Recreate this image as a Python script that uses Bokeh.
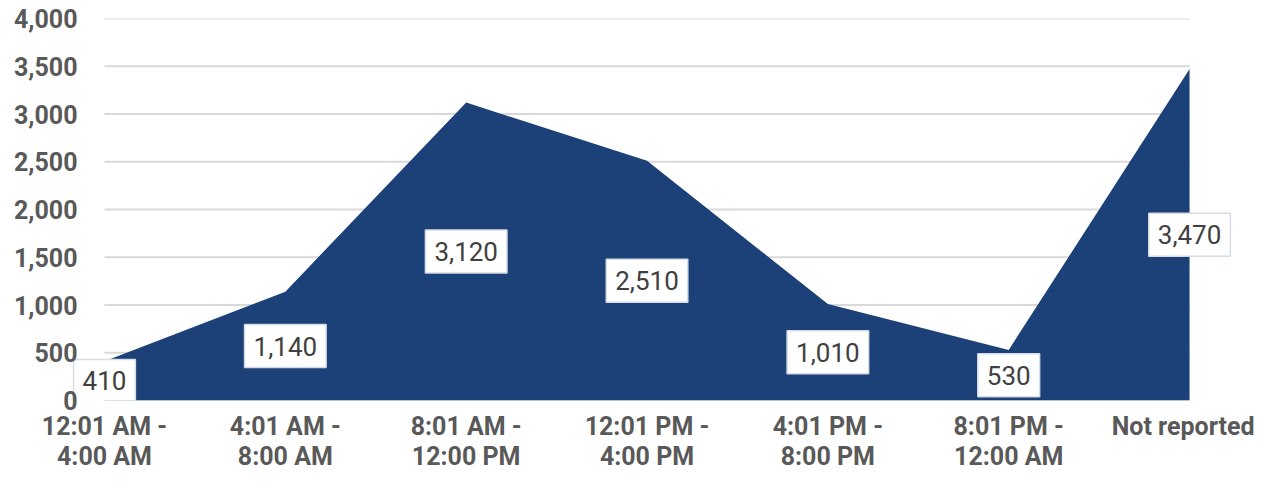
from bokeh.plotting import figure
from bokeh.models import ColumnDataSource, FixedTicker, NumeralTickFormatter, Range1d, Label
from bokeh.embed import file_html
from bokeh.resources import INLINE

categories = ["12:01 AM -\n4:00 AM", "4:01 AM -\n8:00 AM", "8:01 AM -\n12:00 PM",
              "12:01 PM -\n4:00 PM", "4:01 PM -\n8:00 PM", "8:01 PM -\n12:00 AM",
              "Not reported"]
values = [410, 1140, 3120, 2510, 1010, 530, 3470]
y_ticks = [0, 500, 1000, 1500, 2000, 2500, 3000, 3500, 4000]

xs = list(range(len(categories)))
src = ColumnDataSource(dict(x=xs, y=values))
grid = ColumnDataSource(dict(x0=[xs[0]] * len(y_ticks), x1=[xs[-1]] * len(y_ticks), y=y_ticks))

# frame is a bit wider than the category span so the boxed labels at the ends are not clipped
pad_l, pad_r = 0.188, 0.254
p = figure(width=1254, height=473, output_backend="svg", toolbar_location=None,
           x_range=Range1d(xs[0] - pad_l, xs[-1] + pad_r), y_range=Range1d(0, 4000),
           min_border_left=70, min_border_right=19, min_border_top=18, min_border_bottom=60)
p.outline_line_color = None
p.background_fill_color = "white"
p.grid.visible = False

p.segment(x0="x0", x1="x1", y0="y", y1="y", source=grid, line_color="#D9D9D9", line_width=2)
p.varea(x="x", y1=0, y2="y", source=src, fill_color="#1C4178")

p.yaxis.ticker = FixedTicker(ticks=y_ticks)
p.yaxis.formatter = NumeralTickFormatter(format="0,0")
p.xaxis.ticker = FixedTicker(ticks=xs)
p.xaxis.major_label_overrides = {i: c for i, c in zip(xs, categories)}

for ax in (p.xaxis[0], p.yaxis[0]):
    ax.axis_line_color = None
    ax.major_tick_line_color = None
    ax.major_tick_out = 0
    ax.major_tick_in = 0
    ax.minor_tick_line_color = None
    ax.minor_tick_out = 0
    ax.major_label_text_font = "Roboto"
    ax.major_label_text_font_size = "25px"
    ax.major_label_text_font_style = "bold"
    ax.major_label_text_color = "#595959"
p.yaxis.major_label_standoff = -7
p.yaxis.level = "overlay"
p.xaxis.major_label_standoff = 11
p.xaxis.major_label_text_line_height = 1.05

for x, v in zip(xs, values):
    p.add_layout(Label(x=x, y=v / 2, text=f"{v:,}",
                       text_align="center", text_baseline="middle",
                       text_font="Roboto", text_font_size="26px", text_color="#404040",
                       background_fill_color="white", border_line_color="#D6DCE5",
                       border_line_width=1.5, padding=(9, 12)))

open("out.html", "w").write(file_html(p, INLINE))
